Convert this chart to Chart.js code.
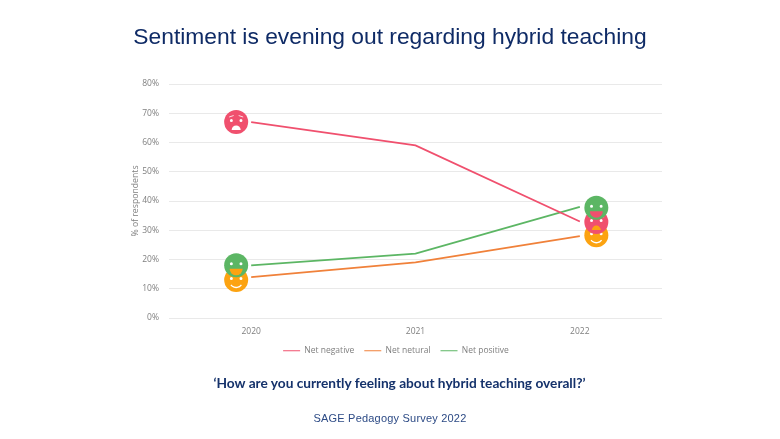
<!DOCTYPE html>
<html>
<head>
<meta charset="utf-8">
<script src="https://cdn.jsdelivr.net/npm/chart.js@4"></script>
<style>
html, body { margin: 0; padding: 0; background: #fff; }
#wrap { position: relative; width: 780px; height: 439px; overflow: hidden; }
#wrap div { position: absolute; left: 0; width: 780px; text-align: center; white-space: nowrap; }
#title { top: 23px; font: 22.8px "Liberation Sans", sans-serif; color: #0f2b66; }
#wrap #question { left: 9.5px; top: 374px; font: bold 13.7px "Lato", sans-serif; color: #15326b; }
#source { top: 412px; font: 11px "Liberation Sans", sans-serif; color: #2c4a85; letter-spacing: 0.2px; }
</style>
</head>
<body>
<div id="wrap">
    <canvas id="sentimentChart" width="780" height="439"></canvas>
    <div id="title">Sentiment is evening out regarding hybrid teaching</div>
    <div id="question">‘How are you currently feeling about hybrid teaching overall?’</div>
    <div id="source">SAGE Pedagogy Survey 2022</div>
</div>
<script>
const years = ["2020", "2021", "2022"];

const netNegative = [67, 59, 33];
const netNeutral = [14, 19, 28];
const netPositive = [18, 22, 38];

const yTicks = [0, 10, 20, 30, 40, 50, 60, 70, 80];

// the faces sit slightly off the line ends in the original
// mouths are cut-outs, so they show whatever face is underneath
const faces = [
    { mood: "happy", color: "#fca311", left: 13, right: 28.3, mouthLeft: "#fff", mouthRight: "#fff" },
    { mood: "sad", color: "#f0506e", left: 67, right: 32.8, mouthLeft: "#fff", mouthRight: "#fca311" },
    { mood: "smile", color: "#5cb664", left: 18, right: 37.7, mouthLeft: "#fca311", mouthRight: "#f0506e" }
];

function drawFace(c, x, y, face, mouth) {
    const r = 12;

    c.save();
    c.fillStyle = face.color;
    c.beginPath();
    c.arc(x, y, r, 0, Math.PI * 2);
    c.fill();

    // eyes
    c.fillStyle = "#fff";
    c.beginPath();
    c.arc(x - 4.8, y - 1.5, 1.5, 0, Math.PI * 2);
    c.arc(x + 4.8, y - 1.5, 1.5, 0, Math.PI * 2);
    c.fill();

    if (face.mood === "happy") {
        c.strokeStyle = mouth;
        c.lineWidth = 1.3;
        c.beginPath();
        c.arc(x, y + 1, 6.5, 0.2 * Math.PI, 0.8 * Math.PI);
        c.stroke();
    } else if (face.mood === "smile") {
        c.fillStyle = mouth;
        c.beginPath();
        c.arc(x, y + 3.5, 6.5, 0, Math.PI);
        c.closePath();
        c.fill();
    } else {
        c.fillStyle = mouth;
        c.beginPath();
        c.arc(x, y + 8, 4.5, Math.PI, 0);
        c.closePath();
        c.fill();
        c.strokeStyle = "#fff";
        c.lineWidth = 0.8;
        c.beginPath();
        c.moveTo(x - 7, y - 5);
        c.lineTo(x - 2.5, y - 6.5);
        c.moveTo(x + 7, y - 5);
        c.lineTo(x + 2.5, y - 6.5);
        c.stroke();
    }
    c.restore();
}

const facePlugin = {
    id: "faces",
    afterDatasetsDraw(chart) {
        const c = chart.ctx;
        const xs = chart.scales.x;
        const ys = chart.scales.y;
        faces.forEach(face => {
            drawFace(c, xs.getPixelForValue(0) - 15, ys.getPixelForValue(face.left), face, face.mouthLeft);
            drawFace(c, xs.getPixelForValue(2) + 16.5, ys.getPixelForValue(face.right), face, face.mouthRight);
        });
    }
};

new Chart(document.getElementById("sentimentChart"), {
    type: "line",
    data: {
        labels: years,
        datasets: [
            { label: "Net negative", data: netNegative, borderColor: "#f0506e", backgroundColor: "#f0506e" },
            { label: "Net netural", data: netNeutral, borderColor: "#f0813a", backgroundColor: "#f0813a" },
            { label: "Net positive", data: netPositive, borderColor: "#5cb664", backgroundColor: "#5cb664" }
        ]
    },
    options: {
        responsive: false,
        animation: false,
        layout: { padding: { left: 130, right: 118, top: 84, bottom: 74 } },
        elements: {
            line: { borderWidth: 1.8, tension: 0 },
            point: { radius: 0 }
        },
        scales: {
            x: {
                offset: true,
                afterFit: axis => { axis.height = 18.5; },
                grid: { display: false, drawTicks: false },
                border: { display: false },
                ticks: { color: "#7f7f7f", font: { family: "Open Sans", size: 8.5 }, padding: 8 }
            },
            y: {
                min: 0,
                max: 80,
                afterFit: axis => { axis.width = 39; },
                afterBuildTicks: axis => { axis.ticks = yTicks.map(v => ({ value: v })); },
                grid: { color: "#e9e9e9", lineWidth: 1, drawTicks: false },
                border: { display: false },
                ticks: {
                    color: "#7f7f7f",
                    font: { family: "Open Sans", size: 8.5 },
                    padding: 10,
                    callback: v => v + "%"
                },
                title: {
                    display: true,
                    text: "% of respondents",
                    color: "#7f7f7f",
                    font: { family: "Open Sans", size: 8.7 },
                    padding: { top: 0, bottom: 2 }
                }
            }
        },
        plugins: {
            legend: {
                position: "bottom",
                labels: {
                    color: "#7f7f7f",
                    font: { family: "Open Sans", size: 8.5 },
                    usePointStyle: true,
                    pointStyle: "line",
                    pointStyleWidth: 17,
                    boxWidth: 17,
                    padding: 10
                }
            },
            tooltip: { enabled: false }
        }
    },
    plugins: [facePlugin]
});
</script>
</body>
</html>
